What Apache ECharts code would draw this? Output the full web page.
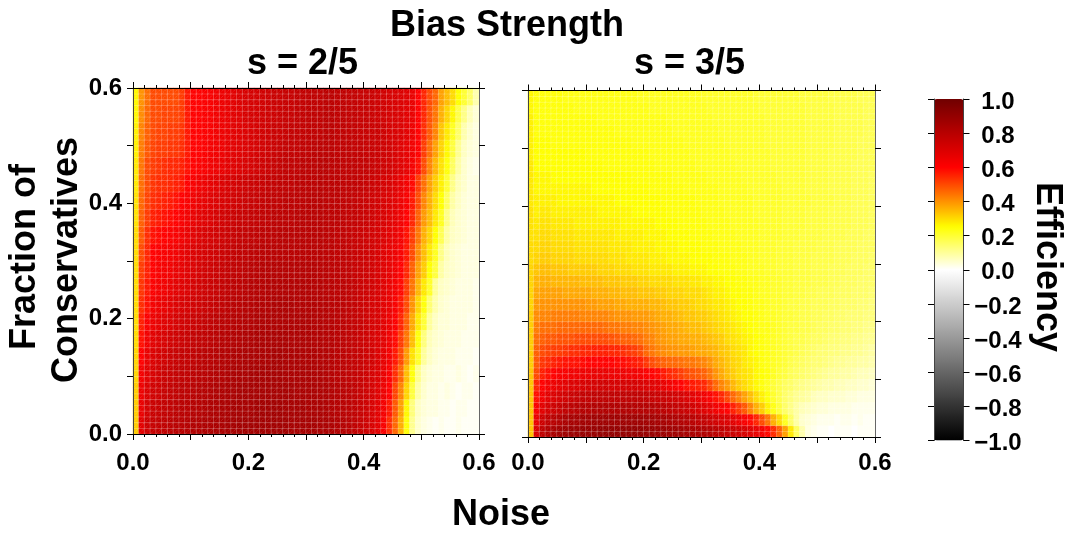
<!DOCTYPE html>
<html><head><meta charset="utf-8">
<style>html,body{margin:0;padding:0;background:#fff}#c{width:1073px;height:536px}</style>
<script src="https://cdn.jsdelivr.net/npm/echarts@6/dist/echarts.min.js"></script>
</head><body><div id="c"></div>
<script>
// Efficiency x100. First row is nearest Fraction = 0, each row left to right in Noise.
const efficiencyS2 = [
[32,68,74,76,77,78,79,80,80,81,82,82,83,83,84,84,85,85,86,86,86,86,86,86,86,86,86,85,85,85,85,85,84,84,83,82,81,80,78,76,74,71,68,62,54,46,36,24,11,5,3,2,1,2,1,1,2,1,1,1],
[32,66,72,75,76,77,78,79,80,80,81,81,82,83,83,84,84,85,85,85,85,86,86,86,86,86,85,85,85,85,84,84,84,83,82,81,80,79,78,76,74,71,68,63,57,48,38,26,13,6,4,3,3,2,2,1,2,2,1,1],
[32,65,70,73,74,76,77,78,79,79,80,81,81,82,83,83,84,84,85,85,85,85,85,85,85,85,85,85,84,84,84,84,83,83,82,81,80,79,78,76,74,72,69,65,60,51,42,31,19,9,5,3,3,2,3,2,1,2,2,1],
[31,63,68,71,73,75,76,77,78,78,79,80,80,81,82,82,83,84,84,84,85,85,85,85,85,85,84,84,84,84,84,83,83,82,81,80,79,78,77,76,74,72,70,66,61,54,46,34,24,12,6,4,3,3,2,2,3,2,1,2],
[31,60,66,70,72,73,75,76,77,77,78,79,80,80,81,82,82,83,83,84,84,84,84,84,85,85,84,84,84,83,83,83,82,82,81,80,79,78,77,76,74,73,70,67,63,57,50,39,29,21,10,6,4,3,3,3,2,2,2,1],
[30,58,64,68,70,71,73,74,75,76,77,78,78,79,80,81,81,82,82,83,83,84,84,84,84,84,84,83,83,83,83,82,82,81,81,80,79,78,77,75,74,72,70,68,64,59,52,44,34,24,13,7,5,4,3,3,3,2,2,2],
[30,56,61,65,67,69,70,72,73,74,75,76,77,78,79,80,80,81,81,82,82,83,83,83,83,83,83,83,83,83,83,82,82,81,81,80,79,78,77,76,74,72,71,68,65,61,55,47,37,28,20,10,6,4,4,3,3,3,2,2],
[30,54,58,63,65,66,68,70,71,72,73,74,75,76,77,78,79,80,80,81,81,82,82,82,83,83,83,83,82,82,82,82,81,81,80,80,79,78,77,75,74,72,71,68,66,62,57,50,40,31,24,14,8,5,4,3,3,3,3,2],
[30,53,57,61,63,64,66,68,69,70,72,73,74,75,76,77,78,79,79,80,81,81,81,82,82,82,82,82,82,82,82,81,81,80,80,79,79,78,77,75,74,73,71,69,66,63,59,52,44,35,28,21,10,6,5,4,3,3,3,2],
[30,52,56,60,62,63,64,66,67,69,70,72,73,74,75,76,77,78,78,79,80,80,81,81,81,81,81,81,81,81,81,81,80,80,79,79,78,78,76,75,74,73,71,69,67,64,60,55,47,38,32,25,19,9,6,5,4,3,3,3],
[30,50,55,60,61,62,63,64,66,68,70,71,72,73,74,75,76,77,78,78,79,79,80,80,80,80,80,80,80,80,80,80,80,79,79,78,78,77,76,75,74,73,71,69,67,65,62,57,50,41,34,28,22,12,7,5,4,3,3,3],
[30,48,54,58,59,60,61,62,64,66,68,70,71,72,73,74,75,76,77,77,78,78,79,79,79,80,80,80,80,80,80,80,80,79,79,78,78,77,76,75,74,73,72,70,68,66,63,58,52,44,36,31,25,17,9,6,5,4,3,3],
[29,47,52,56,57,58,59,60,62,64,66,68,69,70,72,73,74,75,76,76,77,77,78,78,79,79,79,79,80,80,80,80,80,79,79,79,78,77,77,76,75,74,72,71,69,67,64,60,55,47,39,34,28,22,12,7,5,4,3,3],
[29,46,51,54,55,56,57,58,60,62,64,66,67,69,70,71,72,73,74,75,76,76,77,78,78,78,79,79,79,79,80,80,80,79,79,79,78,78,77,76,75,74,73,71,70,68,65,62,57,50,42,36,30,25,16,9,6,4,3,3],
[28,45,50,53,54,54,55,56,57,60,62,64,65,67,68,70,71,72,73,74,75,75,76,77,77,78,78,78,79,79,79,79,80,79,79,79,78,78,78,77,76,75,74,72,71,69,66,63,59,52,45,38,32,27,20,12,7,5,3,3],
[28,44,50,52,53,54,55,55,56,58,60,61,62,64,65,66,68,69,70,71,72,73,74,75,76,77,78,78,78,79,79,79,80,80,79,79,78,78,78,77,77,76,75,74,73,71,69,67,63,58,50,42,35,29,24,16,9,5,3,2],
[27,43,48,51,52,52,53,53,54,57,60,60,61,63,64,65,67,68,69,70,71,72,73,74,75,76,77,77,77,78,78,79,79,79,79,78,78,78,77,77,76,76,75,74,73,71,69,67,64,60,52,45,38,31,26,19,11,6,4,3],
[27,42,47,50,51,51,52,52,53,57,60,60,61,62,64,65,66,68,69,70,71,72,73,74,75,75,76,77,77,77,78,78,78,79,79,78,78,77,77,76,76,75,75,74,72,71,70,68,65,60,54,48,42,33,28,22,15,8,5,3],
[26,41,46,50,50,51,51,51,52,57,60,60,61,62,64,65,66,68,69,71,72,72,73,74,74,75,76,76,77,77,78,78,78,79,79,78,78,77,77,76,76,75,74,73,72,71,70,68,66,60,55,49,44,36,31,26,18,12,7,4],
[26,40,45,50,50,50,50,50,52,57,60,60,61,62,64,65,66,68,70,71,72,72,73,74,75,75,76,76,77,77,78,78,78,79,79,78,78,77,77,76,76,75,74,73,72,71,70,69,66,60,55,50,46,38,34,30,25,20,15,8]
];
const efficiencyS3 = [
[33,70,78,82,84,86,87,88,88,89,89,89,90,90,90,90,90,90,90,90,89,89,88,88,87,87,86,85,84,83,82,81,79,78,76,75,73,71,69,66,63,59,54,47,38,28,16,8,3,2,1,1,0,1,1,1,0,1,1,1],
[33,66,74,78,80,82,84,85,85,86,86,87,87,87,87,87,87,87,87,87,86,86,85,85,84,83,82,81,80,78,77,75,73,71,70,68,65,62,59,55,50,44,36,30,22,15,9,5,4,3,2,2,2,1,2,2,1,2,1,1],
[33,62,68,72,74,76,78,79,80,81,81,82,82,82,82,82,82,82,81,81,81,81,80,79,78,77,76,75,73,71,69,67,64,62,60,56,52,48,42,36,32,27,23,19,15,12,9,7,6,5,4,4,3,3,3,3,2,2,2,2],
[33,58,64,68,70,72,73,75,76,77,77,78,78,78,78,78,78,78,78,78,77,76,75,75,74,73,72,70,68,66,64,61,58,55,51,46,42,38,34,30,27,24,21,18,15,13,11,10,9,7,6,6,5,5,5,4,4,3,3,3],
[33,55,60,63,65,67,68,70,70,71,72,72,73,73,72,72,72,72,72,71,70,69,68,66,64,62,60,58,57,56,55,51,46,42,39,35,32,30,28,26,24,22,20,18,16,15,13,12,11,10,9,8,8,7,7,6,6,5,5,4],
[33,50,56,58,60,62,62,64,64,65,65,66,66,66,65,65,65,64,64,63,61,60,59,57,55,54,52,50,49,48,47,44,40,37,34,32,30,29,28,26,25,24,22,20,19,17,16,15,14,13,12,11,10,10,9,9,8,7,7,6],
[32,48,53,54,56,57,58,58,58,59,60,60,60,60,60,59,59,58,57,56,53,50,48,47,46,46,45,44,44,43,42,40,37,35,33,31,30,28,27,26,24,23,22,21,20,18,17,16,15,14,14,13,12,11,11,10,10,9,9,8],
[32,47,50,51,52,52,53,54,54,55,55,56,56,56,55,55,54,53,52,50,46,44,42,41,40,40,39,39,38,37,37,36,35,33,32,30,29,28,26,25,24,23,22,21,20,19,18,17,16,15,14,14,13,13,12,12,11,11,10,9],
[32,45,47,48,48,49,49,49,50,50,50,50,50,50,49,48,47,47,46,45,43,42,40,39,38,38,37,37,36,36,35,34,33,32,30,29,28,27,26,25,24,23,22,21,20,19,18,18,17,16,16,15,14,14,13,13,12,12,11,11],
[32,43,45,45,45,46,46,46,46,46,46,46,46,45,44,44,43,43,42,42,41,40,39,38,37,37,36,35,34,34,33,32,31,30,29,28,27,26,25,24,23,23,22,21,20,19,19,18,18,17,16,16,15,15,14,14,13,13,12,12],
[32,41,42,42,43,43,43,43,43,42,42,42,42,42,41,40,40,40,39,39,39,38,37,36,36,35,34,33,33,32,32,31,30,29,28,27,26,25,25,24,23,22,22,21,20,20,19,18,18,17,17,16,16,15,15,14,14,14,13,13],
[31,39,40,40,40,40,40,40,40,40,39,39,38,38,38,37,37,36,36,36,36,35,35,34,33,33,32,32,31,30,30,29,28,28,27,26,25,25,24,23,23,22,21,21,20,19,19,18,18,17,17,17,16,16,15,15,15,14,14,13],
[31,37,38,38,38,38,37,37,37,37,37,36,36,36,35,35,34,34,34,33,33,33,32,32,31,31,31,30,30,30,29,28,27,27,26,25,25,24,24,23,22,22,21,21,20,20,19,19,18,18,17,17,17,16,16,16,15,15,15,14],
[31,35,36,36,35,35,35,35,35,34,34,34,34,33,33,33,32,32,32,31,31,30,30,30,30,29,29,29,28,28,27,27,26,26,25,25,24,24,23,23,22,22,21,21,20,20,19,19,19,18,18,18,17,17,16,16,16,15,15,15],
[31,33,34,34,33,33,33,32,32,32,32,32,31,31,31,30,30,30,29,29,29,28,28,28,28,27,27,27,26,26,26,25,25,24,24,24,23,23,22,22,22,21,21,20,20,20,19,19,19,18,18,18,17,17,17,16,16,16,15,15],
[30,31,32,32,31,31,31,31,30,30,30,30,30,30,29,29,29,28,28,28,28,27,27,27,26,26,26,26,25,25,25,25,24,24,24,23,23,23,22,22,21,21,21,20,20,20,19,19,19,18,18,18,18,17,17,17,16,16,16,15],
[30,30,31,31,30,30,30,30,29,29,29,29,29,29,28,28,28,28,27,27,27,27,26,26,26,26,25,25,25,25,24,24,24,23,23,23,23,22,22,22,21,21,21,20,20,20,19,19,19,19,18,18,18,17,17,17,17,16,16,16],
[29,29,30,30,29,29,29,29,28,28,28,28,28,28,28,27,27,27,27,27,26,26,26,26,25,25,25,25,24,24,24,24,23,23,23,23,22,22,22,22,21,21,21,21,20,20,20,19,19,19,19,18,18,18,18,17,17,17,16,16],
[29,28,29,29,28,28,28,28,27,27,27,27,27,27,27,27,26,26,26,26,26,26,25,25,25,25,24,24,24,24,24,23,23,23,23,22,22,22,22,22,21,21,21,21,20,20,20,20,19,19,19,19,18,18,18,18,17,17,17,16],
[29,27,28,28,27,27,27,27,27,27,27,27,26,26,26,26,26,26,25,25,25,25,25,25,24,24,24,24,24,24,23,23,23,23,22,22,22,22,22,21,21,21,21,21,20,20,20,20,19,19,19,19,18,18,18,18,17,17,17,16],
[28,27,27,27,27,26,26,26,26,26,26,26,26,26,26,25,25,25,25,25,25,25,25,24,24,24,24,24,24,23,23,23,23,22,22,22,22,22,22,21,21,21,21,21,20,20,20,20,20,19,19,19,19,18,18,18,17,17,17,16],
[28,26,26,26,26,26,26,26,26,26,26,25,25,25,25,25,25,25,25,25,25,24,24,24,24,24,24,23,23,23,23,23,23,22,22,22,22,22,21,21,21,21,21,21,20,20,20,20,19,19,19,19,18,18,18,18,17,17,17,16],
[28,26,26,26,25,25,25,25,25,25,25,25,25,25,25,25,25,25,24,24,24,24,24,24,24,23,23,23,23,23,23,22,22,22,22,22,22,21,21,21,21,21,21,20,20,20,20,20,19,19,19,19,18,18,18,18,17,17,17,16],
[28,25,25,25,25,25,25,25,25,25,25,25,25,24,24,24,24,24,24,24,24,24,23,23,23,23,23,23,23,22,22,22,22,22,22,22,21,21,21,21,21,21,20,20,20,20,20,20,19,19,19,19,18,18,18,18,17,17,17,17],
[27,25,25,25,25,25,25,25,25,25,24,24,24,24,24,24,24,24,24,24,24,23,23,23,23,23,23,23,22,22,22,22,22,22,22,21,21,21,21,21,21,21,20,20,20,20,20,20,19,19,19,19,18,18,18,18,18,17,17,17],
[27,25,25,25,24,24,24,24,24,24,24,24,24,24,24,24,24,24,23,23,23,23,23,23,23,23,23,22,22,22,22,22,22,22,21,21,21,21,21,21,21,20,20,20,20,20,20,20,19,19,19,19,19,18,18,18,18,17,17,17],
[27,24,24,24,24,24,24,24,24,24,24,24,24,24,24,23,23,23,23,23,23,23,23,23,23,22,22,22,22,22,22,22,22,21,21,21,21,21,21,21,21,20,20,20,20,20,20,20,19,19,19,19,19,18,18,18,18,18,17,17],
[27,24,24,24,24,24,24,24,24,24,24,24,23,23,23,23,23,23,23,23,23,23,23,23,22,22,22,22,22,22,22,22,21,21,21,21,21,21,21,21,21,20,20,20,20,20,20,20,19,19,19,19,19,18,18,18,18,18,17,17],
[26,24,24,24,24,24,24,24,23,23,23,23,23,23,23,23,23,23,23,23,23,22,22,22,22,22,22,22,22,22,22,21,21,21,21,21,21,21,21,21,20,20,20,20,20,20,20,20,19,19,19,19,19,18,18,18,18,18,17,17],
[26,24,24,24,24,24,23,23,23,23,23,23,23,23,23,23,23,23,23,22,22,22,22,22,22,22,22,22,22,22,21,21,21,21,21,21,21,21,21,20,20,20,20,20,20,20,20,19,19,19,19,19,18,18,18,18,18,17,17,17]
];
const noiseTicks = Array.from({length:60},(_,i)=>i);
const colorAnchors = [[-1,0,0,0],[0,255,255,255],[0.25,255,255,0],[0.6,255,0,0],[1,112,0,0]];
const font = '"Liberation Sans", Arial, sans-serif';

function colorAt(v){
  for(let i=1;i<colorAnchors.length;i++){
    const a=colorAnchors[i-1],b=colorAnchors[i];
    if(v<=b[0]+1e-9){const t=(v-a[0])/(b[0]-a[0]);
      return 'rgb('+[1,2,3].map(k=>Math.round(a[k]+(b[k]-a[k])*t)).join(',')+')';}
  }
}
const palette=[];for(let i=0;i<=40;i++)palette.push(colorAt(-1+i*0.05));

function cells(rows,repeat){
  const out=[];
  rows.forEach((row,r)=>{for(let k=0;k<repeat;k++)row.forEach((v,c)=>out.push([c,r*repeat+k,v/100]));});
  return out;
}
const rowIdx=Array.from({length:60},(_,i)=>i);
const tickFmt=v=>{const n=Math.round(v*10);return n%2===0?(n/10).toFixed(1):'';};
const line=(c)=>({show:true,onZero:false,lineStyle:{color:c,width:1}});
const label={fontFamily:font,fontWeight:'bold',fontSize:24,color:'#000'};
const tick={show:true,length:6,lineStyle:{color:'#000',width:1}};
const minor={show:true,splitNumber:5,length:3,lineStyle:{color:'#000',width:1}};

const panels=[{left:133,top:88,width:346,height:346,yLabels:true,xMargin:17},
              {left:528,top:90.5,width:347,height:346.5,yLabels:false,xMargin:14}];
const grid=[],xAxis=[],yAxis=[],series=[];
panels.forEach((p,i)=>{
  grid.push({left:p.left,top:p.top,width:p.width,height:p.height,outerBoundsMode:'none'});
  const base={gridIndex:i,type:'value',min:0,max:0.6,interval:0.1,splitLine:{show:false},z:5};
  xAxis.push({gridIndex:i,type:'category',data:noiseTicks,show:false});
  xAxis.push({...base,position:'bottom',axisLine:line('#000'),axisTick:tick,minorTick:minor,
    axisLabel:{...label,margin:p.xMargin,formatter:tickFmt,showMinLabel:true,showMaxLabel:true}});
  xAxis.push({...base,position:'top',axisLine:line('#000'),axisTick:tick,minorTick:minor,axisLabel:{show:false}});
  yAxis.push({gridIndex:i,type:'category',data:rowIdx,show:false});
  yAxis.push({...base,position:'left',axisLine:line('#444'),axisTick:tick,
    axisLabel:p.yLabels?{...label,margin:11,formatter:tickFmt,showMinLabel:true,showMaxLabel:true}:{show:false}});
  yAxis.push({...base,position:'right',axisLine:line('#666'),axisTick:tick,axisLabel:{show:false}});
  series.push({type:'heatmap',name:i===0?'s = 2/5':'s = 3/5',xAxisIndex:i*3,yAxisIndex:i*3,
    data:i===0?cells(efficiencyS2,3):cells(efficiencyS3,2),progressive:0,animation:false,
    itemStyle:{borderColor:'rgba(255,255,255,0.2)',borderWidth:1},emphasis:{disabled:true}});
});
// faint diagonal in every cell, drawn through the same axes
panels.forEach((p,i)=>{
  series.push({type:'custom',xAxisIndex:i*3,yAxisIndex:i*3,silent:true,animation:false,z:3,progressive:0,
    data:i===0?cells(efficiencyS2,3):cells(efficiencyS3,2),
    encode:{x:0,y:1},
    renderItem:(params,api)=>{
      const c=api.coord([api.value(0),api.value(1)]),s=api.size([1,1]);
      return {type:'line',shape:{x1:c[0]-s[0]/2,y1:c[1]+s[1]/2,x2:c[0]+s[0]/2,y2:c[1]-s[1]/2},
        style:{stroke:'rgba(255,255,255,0.2)',lineWidth:1,lineDash:[1,1],fill:null}};
    }});
});
// colour bar: ticks on the bar itself, labels on a copy of the scale set about 3px lower as in the reference
grid.push({left:934,top:99,width:29.5,height:341.5,outerBoundsMode:'none'});
xAxis.push({gridIndex:2,type:'value',show:false,min:0,max:1});
const cbBase={gridIndex:2,type:'value',min:-1,max:1,interval:0.2,splitLine:{show:false},z:5};
yAxis.push({...cbBase,position:'left',axisLine:line('#444'),axisTick:tick,axisLabel:{show:false}});
yAxis.push({...cbBase,position:'right',axisLine:line('#444'),axisTick:tick,axisLabel:{show:false}});
grid.push({left:934,top:102,width:29.5,height:341.5,outerBoundsMode:'none'});
xAxis.push({gridIndex:3,type:'value',show:false,min:0,max:1});
yAxis.push({...cbBase,gridIndex:3,position:'right',axisLine:{show:false},axisTick:{show:false},
  axisLabel:{...label,align:'center',margin:34.5,showMinLabel:true,showMaxLabel:true,
    formatter:v=>{const s=Math.abs(v).toFixed(1);return v<-0.001?'\u2212'+s:s;}}});

const bigText=(text,x,y,rotation)=>({type:'text',x,y,rotation:rotation||0,z:10,
  style:{text,font:'bold 36px '+font,fill:'#000',align:'center',verticalAlign:'middle'}});

const chart=echarts.init(document.getElementById('c'),null,{renderer:'canvas'});
chart.setOption({
  animation:false,backgroundColor:'#fff',
  title:[
    {text:'Bias Strength',left:502,top:3,textAlign:'center',textStyle:{fontFamily:font,fontWeight:'bold',fontSize:36,color:'#000'}},
    {text:'s = 2/5',left:297.5,top:41,textAlign:'center',textStyle:{fontFamily:font,fontWeight:'bold',fontSize:36,color:'#000'}},
    {text:'s = 3/5',left:684.5,top:41,textAlign:'center',textStyle:{fontFamily:font,fontWeight:'bold',fontSize:36,color:'#000'}}
  ],
  grid,xAxis,yAxis,series,
  visualMap:{type:'continuous',min:-1,max:1,seriesIndex:[0,1],calculable:false,realtime:false,
    left:934,top:99,itemWidth:29.5,itemHeight:341.5,padding:0,z:1,showLabel:false,
    inRange:{color:palette},text:['','']},
  graphic:[
    bigText('Fraction of',25,257,Math.PI/2),
    bigText('Conservatives',67,260,Math.PI/2),
    bigText('Noise',501,515),
    bigText('Efficiency',1047,267,-Math.PI/2)
  ],
  tooltip:{show:false}
});
</script></body></html>
